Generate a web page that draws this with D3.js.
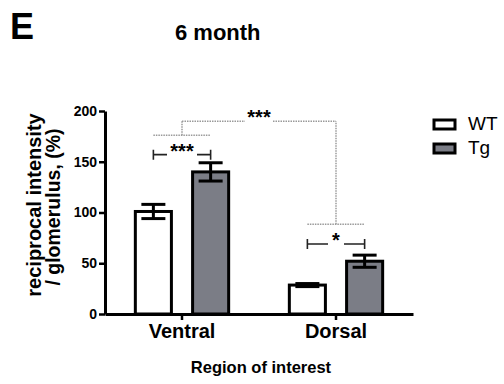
<!DOCTYPE html>
<html>
<head>
<meta charset="utf-8">
<script src="https://cdn.jsdelivr.net/npm/d3@7"></script>
<style>
  body { margin: 0; background: #fff; }
  text { font-family: Arial, "Liberation Sans", sans-serif; }
</style>
</head>
<body>
<div id="viz"></div>
<script>
// data
var groups = ["Ventral", "Dorsal"];
var series = ["WT", "Tg"];
var wtMean = [101, 28.5];
var wtErr = [7, 1.5];
var tgMean = [140, 52];
var tgErr = [9, 6];
var yTicks = [0, 50, 100, 150, 200];

// significance marks (in data units)
var pairLevel = [157, 69];
var pairLabel = ["***", "*"];
var groupLevel = [176, 88.5];
var topLevel = 190;
var topLabel = "***";

var W = 504, H = 384;
var fills = { WT: "#ffffff", Tg: "#7b7d86" };

var svg = d3.select("#viz").append("svg")
    .attr("width", W)
    .attr("height", H);

var x0 = d3.scaleBand().domain(groups).range([105, 413]).padding(0);
var x1 = d3.scaleBand().domain(series).range([0, x0.bandwidth()])
    .paddingInner(0.37).paddingOuter(0.53);
var y = d3.scaleLinear().domain([0, 200]).range([314, 111]);

var rows = groups.map(function(g, i){
    return [
        { g: g, s: "WT", m: wtMean[i], e: wtErr[i] },
        { g: g, s: "Tg", m: tgMean[i], e: tgErr[i] }
    ];
});
var flat = [].concat.apply([], rows);

function cx(d){ return x0(d.g) + x1(d.s) + x1.bandwidth() / 2; }

// bars
svg.append("g").selectAll("rect")
    .data(flat)
    .enter().append("rect")
    .attr("x", function(d){ return x0(d.g) + x1(d.s); })
    .attr("y", function(d){ return y(d.m); })
    .attr("width", x1.bandwidth())
    .attr("height", function(d){ return y(0) - y(d.m); })
    .style("fill", function(d){ return fills[d.s]; })
    .style("stroke", "#000")
    .style("stroke-width", 3);

// error bars
var eb = svg.append("g").selectAll("g")
    .data(flat)
    .enter().append("g")
    .style("stroke", "#000")
    .style("stroke-width", 3);
eb.append("line")
    .attr("x1", cx).attr("x2", cx)
    .attr("y1", function(d){ return y(d.m + d.e); })
    .attr("y2", function(d){ return y(d.m - d.e); });
eb.append("line")
    .attr("x1", function(d){ return cx(d) - 12; })
    .attr("x2", function(d){ return cx(d) + 12; })
    .attr("y1", function(d){ return y(d.m + d.e); })
    .attr("y2", function(d){ return y(d.m + d.e); });
eb.append("line")
    .attr("x1", function(d){ return cx(d) - 12; })
    .attr("x2", function(d){ return cx(d) + 12; })
    .attr("y1", function(d){ return y(d.m - d.e); })
    .attr("y2", function(d){ return y(d.m - d.e); });

// axes
var yAxis = svg.append("g")
    .attr("transform", "translate(105,0)")
    .call(d3.axisLeft(y).tickValues(yTicks).tickSize(6).tickSizeOuter(0).tickPadding(2));
var xAxis = svg.append("g")
    .attr("transform", "translate(0," + y(0) + ")")
    .call(d3.axisBottom(x0).tickSize(6).tickSizeOuter(0).tickPadding(4));

[yAxis, xAxis].forEach(function(a){
    a.select(".domain").style("stroke", "#000").style("stroke-width", 3);
    a.selectAll(".tick line").style("stroke", "#000").style("stroke-width", 2.5);
});
yAxis.selectAll("text")
    .style("font-size", "14px").style("font-weight", "bold").style("fill", "#000");
xAxis.selectAll("text")
    .style("font-size", "20px").style("font-weight", "bold").style("fill", "#000");

// pairwise brackets
var sig = svg.append("g");
groups.forEach(function(g, i){
    var a = cx(rows[i][0]), b = cx(rows[i][1]);
    var ly = y(pairLevel[i]);
    var mid = (a + b) / 2;
    var gap = pairLabel[i].length > 1 ? 15 : 8;
    var path = "M" + a + "," + (ly - 5) + "V" + (ly + 5) +
        "M" + a + "," + ly + "H" + (mid - gap) +
        "M" + (mid + gap) + "," + ly + "H" + b +
        "M" + b + "," + (ly - 5) + "V" + (ly + 5);
    sig.append("path")
        .attr("d", path)
        .style("fill", "none")
        .style("stroke", "#222")
        .style("stroke-width", 1.6);
    sig.append("text")
        .attr("x", mid)
        .attr("y", ly + 3)
        .attr("text-anchor", "middle")
        .style("font-size", "20px").style("font-weight", "bold")
        .text(pairLabel[i]);
});

// group comparison (dotted gray)
var gl = svg.append("g")
    .style("fill", "none")
    .style("stroke", "#9a9a9a")
    .style("stroke-width", 1.5)
    .style("stroke-dasharray", "1.5,1");
var gc = groups.map(function(g){ return x0(g) + x0.bandwidth() / 2; });
var ty = y(topLevel);
groups.forEach(function(g, i){
    var gy = y(groupLevel[i]);
    gl.append("path")
        .attr("d", "M" + cx(rows[i][0]) + "," + gy + "H" + cx(rows[i][1]) +
            "M" + gc[i] + "," + gy + "V" + ty);
});
var tmid = (gc[0] + gc[1]) / 2;
gl.append("path")
    .attr("d", "M" + gc[0] + "," + ty + "H" + (tmid - 14) +
        "M" + (tmid + 14) + "," + ty + "H" + gc[1]);
svg.append("text")
    .attr("x", tmid)
    .attr("y", ty + 3)
    .attr("text-anchor", "middle")
    .style("font-size", "20px").style("font-weight", "bold")
    .text(topLabel);

// legend
var leg = svg.append("g").selectAll("g")
    .data(series)
    .enter().append("g")
    .attr("transform", function(d, i){ return "translate(434," + (120 + i * 24) + ")"; });
leg.append("rect")
    .attr("width", 21).attr("height", 9)
    .style("fill", function(d){ return fills[d]; })
    .style("stroke", "#000").style("stroke-width", 3);
leg.append("text")
    .attr("x", 34).attr("y", 9.5)
    .style("font-size", "19px")
    .text(function(d){ return d; });

// titles
svg.append("text")
    .attr("x", 10).attr("y", 39)
    .style("font-size", "36px").style("font-weight", "bold")
    .text("E");
svg.append("text")
    .attr("x", 175).attr("y", 40)
    .style("font-size", "22px").style("font-weight", "bold")
    .text("6 month");
svg.append("text")
    .attr("transform", "translate(41,205) rotate(-90)")
    .attr("text-anchor", "middle")
    .style("font-size", "20px").style("font-weight", "bold")
    .text("reciprocal intensity");
svg.append("text")
    .attr("transform", "translate(60,207) rotate(-90)")
    .attr("text-anchor", "middle")
    .style("font-size", "19.5px").style("font-weight", "bold")
    .text("/ glomerulus, (%)");
svg.append("text")
    .attr("x", 261).attr("y", 373)
    .attr("text-anchor", "middle")
    .style("font-size", "16.5px").style("font-weight", "bold")
    .text("Region of interest");
</script>
</body>
</html>
